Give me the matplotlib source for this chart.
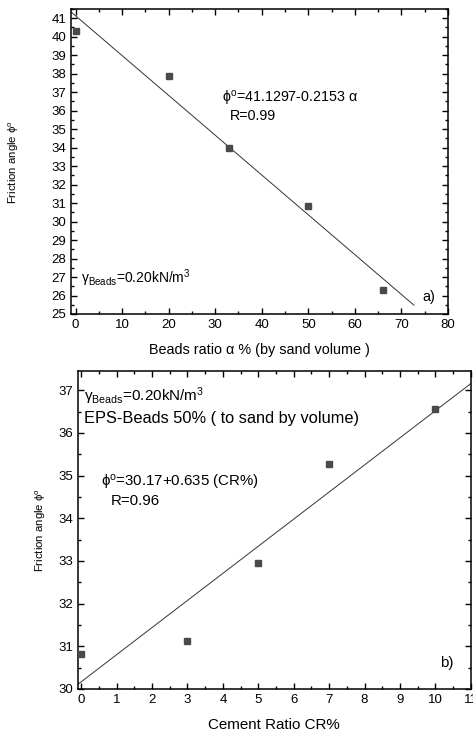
import numpy as np, matplotlib
matplotlib.use('Agg')
import matplotlib.pyplot as plt
from matplotlib.ticker import MultipleLocator

plt.rcParams['font.family'] = ['Liberation Sans', 'DejaVu Sans']
plt.rcParams['mathtext.default'] = 'regular'

# a) friction angle vs beads ratio
beads_ratio = [0, 20, 33, 50, 66]
phi_beads   = [40.3, 37.9, 34.0, 30.85, 26.3]
fit_a       = [41.1297, -0.2153]   # intercept, slope
fit_a_range = [-1, 72.7]

# b) friction angle vs cement ratio
cement_ratio = [0, 3, 5, 7, 10]
phi_cement   = [30.83, 31.12, 32.95, 35.27, 36.55]
fit_b        = [30.17, 0.635]
fit_b_range  = [-0.1, 11.2]

mk  = dict(ls='none', marker='s', ms=4.6, color='#4a4a4a', zorder=3)
fit = dict(color='#333333', lw=0.7, zorder=2)

def style(ax):
    ax.tick_params(which='both', direction='in', top=True, right=True,
                   labelsize=9.5, width=1.0, pad=3.5)
    ax.tick_params(which='major', length=4.5)
    ax.tick_params(which='minor', length=2.5)
    for s in ax.spines.values():
        s.set_linewidth(1.1)

fig = plt.figure(figsize=(4.73, 7.35), dpi=100)

# ---- panel a
ax1 = fig.add_axes([0.150, 0.5728, 0.797, 0.415])
ax1.plot(beads_ratio, phi_beads, **mk)
xa = np.array(fit_a_range)
ax1.plot(xa, fit_a[0] + fit_a[1]*xa, **fit)
ax1.set_xlim(-1, 80); ax1.set_ylim(25, 41.5)
ax1.xaxis.set_major_locator(MultipleLocator(10)); ax1.xaxis.set_minor_locator(MultipleLocator(5))
ax1.yaxis.set_major_locator(MultipleLocator(1)); ax1.yaxis.set_minor_locator(MultipleLocator(0.5))
style(ax1)
ax1.set_xlabel('Beads ratio α % (by sand volume )', fontsize=10.4)
ax1.set_ylabel('Friction angle ϕ$^o$', fontsize=8.2)
ax1.yaxis.set_label_coords(-0.133, 0.5)
ax1.xaxis.set_label_coords(0.5, -0.095)
ax1.text(31.5, 36.64, 'ϕ$^o$=41.1297-0.2153 α', fontsize=10.3, va='center')
ax1.text(33.2, 35.7, 'R=0.99', fontsize=10.3, va='center')
ax1.text(1.1, 26.93, 'γ$_{Beads}$=0.20kN/m$^3$', fontsize=10, va='center')
ax1.text(74.5, 25.92, 'a)', fontsize=10.3, va='center')

# ---- panel b
ax2 = fig.add_axes([0.1643, 0.0626, 0.831, 0.4326])
ax2.plot(cement_ratio, phi_cement, **mk)
xb = np.array(fit_b_range)
ax2.plot(xb, fit_b[0] + fit_b[1]*xb, **fit)
ax2.set_xlim(-0.1, 11); ax2.set_ylim(30, 37.45)
ax2.xaxis.set_major_locator(MultipleLocator(1)); ax2.xaxis.set_minor_locator(MultipleLocator(0.5))
ax2.yaxis.set_major_locator(MultipleLocator(1)); ax2.yaxis.set_minor_locator(MultipleLocator(0.5))
style(ax2)
ax2.set_xlabel('Cement Ratio CR%', fontsize=10.9)
ax2.set_ylabel('Friction angle ϕ$^o$', fontsize=8.2)
ax2.yaxis.set_label_coords(-0.0756, 0.5)
ax2.xaxis.set_label_coords(0.5, -0.091)
ax2.text(0.09, 36.86, 'γ$_{Beads}$=0.20kN/m$^3$', fontsize=11, va='center')
ax2.text(0.09, 36.33, 'EPS-Beads 50% ( to sand by volume)', fontsize=11.8, va='center')
ax2.text(0.57, 34.83, 'ϕ$^o$=30.17+0.635 (CR%)', fontsize=10.8, va='center')
ax2.text(0.83, 34.40, 'R=0.96', fontsize=10.8, va='center')
ax2.text(10.12, 30.62, 'b)', fontsize=10.8, va='center')

fig.savefig('out.png', dpi=100)
